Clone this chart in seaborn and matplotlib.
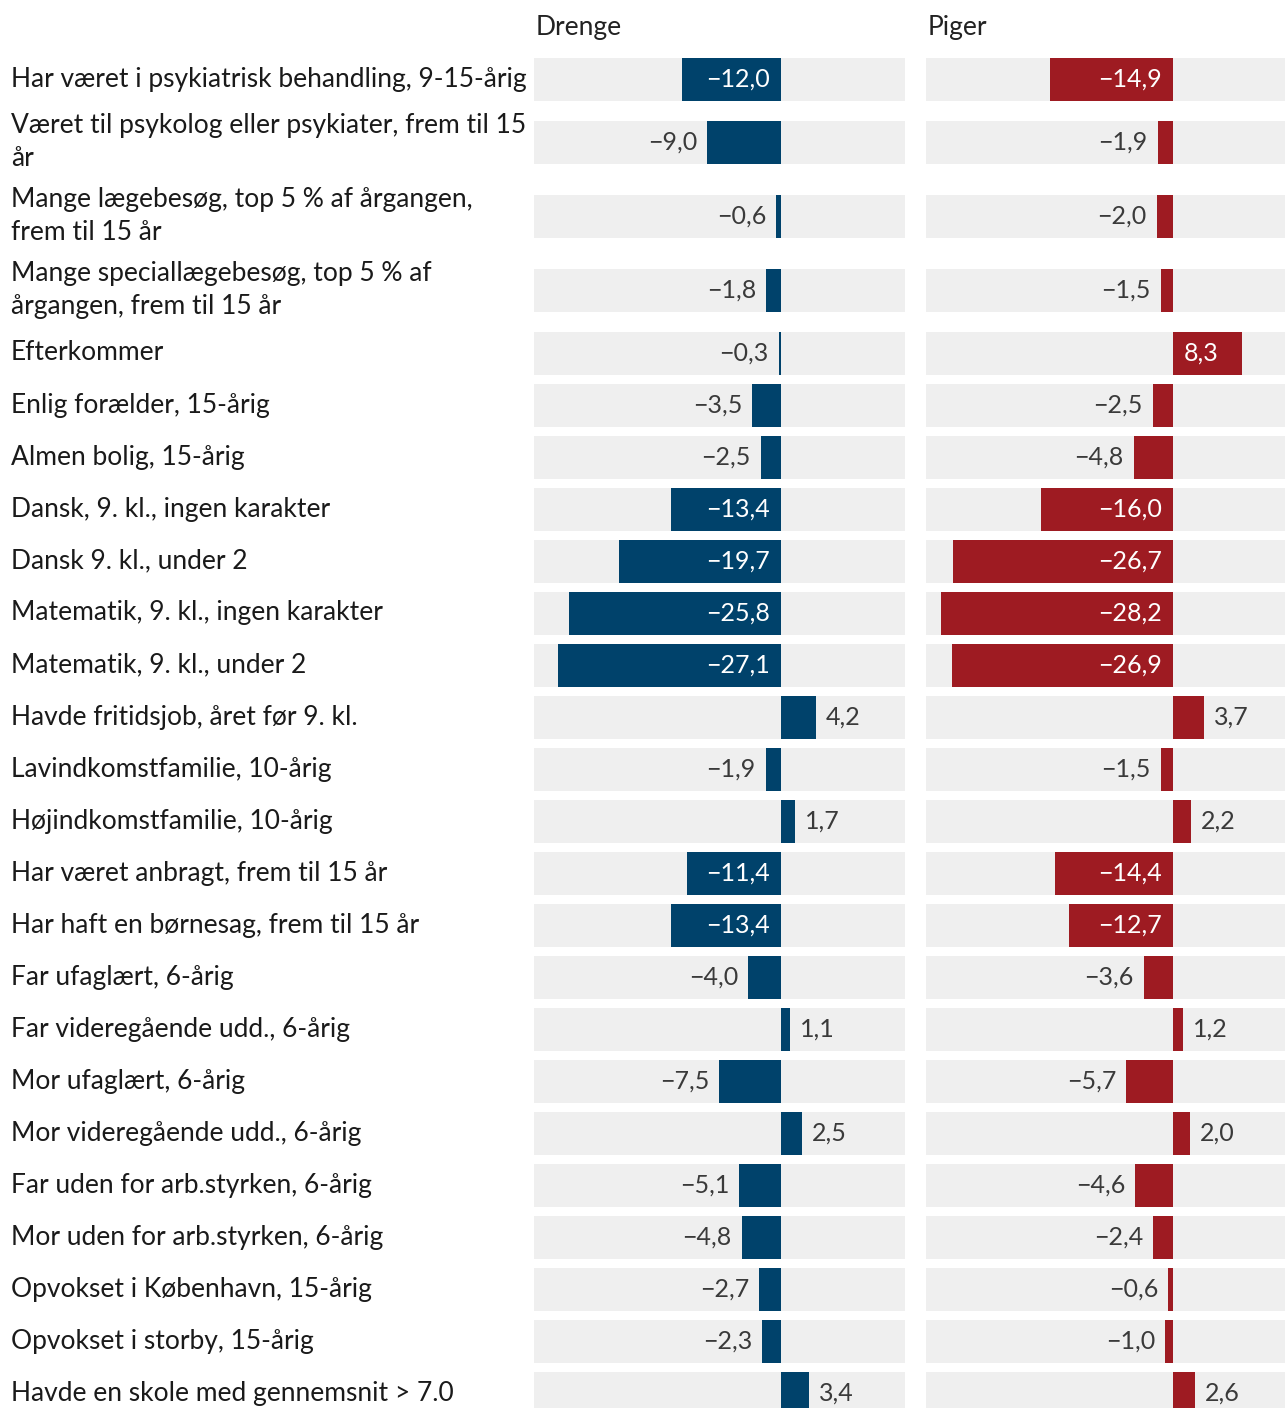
import numpy as np
import pandas as pd
import seaborn as sns
import matplotlib.pyplot as plt

sns.set_theme(style='white')
plt.rcParams['font.family'] = ['Lato', 'DejaVu Sans']

# data
labels = [
    'Har været i psykiatrisk behandling, 9-15-årig',
    'Været til psykolog eller psykiater, frem til 15\når',
    'Mange lægebesøg, top 5 % af årgangen,\nfrem til 15 år',
    'Mange speciallægebesøg, top 5 % af\nårgangen, frem til 15 år',
    'Efterkommer',
    'Enlig forælder, 15-årig',
    'Almen bolig, 15-årig',
    'Dansk, 9. kl., ingen karakter',
    'Dansk 9. kl., under 2',
    'Matematik, 9. kl., ingen karakter',
    'Matematik, 9. kl., under 2',
    'Havde fritidsjob, året før 9. kl.',
    'Lavindkomstfamilie, 10-årig',
    'Højindkomstfamilie, 10-årig',
    'Har været anbragt, frem til 15 år',
    'Har haft en børnesag, frem til 15 år',
    'Far ufaglært, 6-årig',
    'Far videregående udd., 6-årig',
    'Mor ufaglært, 6-årig',
    'Mor videregående udd., 6-årig',
    'Far uden for arb.styrken, 6-årig',
    'Mor uden for arb.styrken, 6-årig',
    'Opvokset i København, 15-årig',
    'Opvokset i storby, 15-årig',
    'Havde en skole med gennemsnit > 7.0',
]
drenge = [-12.0, -9.0, -0.6, -1.8, -0.3, -3.5, -2.5, -13.4, -19.7, -25.8, -27.1, 4.2, -1.9,
          1.7, -11.4, -13.4, -4.0, 1.1, -7.5, 2.5, -5.1, -4.8, -2.7, -2.3, 3.4]
piger = [-14.9, -1.9, -2.0, -1.5, 8.3, -2.5, -4.8, -16.0, -26.7, -28.2, -26.9, 3.7, -1.5,
         2.2, -14.4, -12.7, -3.6, 1.2, -5.7, 2.0, -4.6, -2.4, -0.6, -1.0, 2.6]
titles = ['Drenge', 'Piger']

W, H = 1285, 1408
fig = plt.figure(figsize=(W / 100, H / 100), dpi=100)

# row layout in pixels (two-line labels get taller rows)
row_h = np.array([74 if '\n' in l else 52 for l in labels])
centers = 53 + np.cumsum(row_h) - row_h / 2
bar_h = 43

df = pd.DataFrame({'label': labels, 'y': centers, 'Drenge': drenge, 'Piger': piger})

scale = 8.24  # px per percentage point
panels = [('Drenge', 534, 905, '#00426b'), ('Piger', 926, 1285, '#9e1b22')]
fs_lab = 19
fs_val = 18

for col, left, right, color in panels:
    ax = fig.add_axes([left / W, 0, (right - left) / W, 1])
    for c in centers:
        ax.axhspan(c - bar_h / 2, c + bar_h / 2, color='#efefef', zorder=0, lw=0)
    sns.barplot(data=df, x=col, y='y', orient='h', native_scale=True, width=bar_h / 52,
                color=color, saturation=1, linewidth=0, errorbar=None, ax=ax, zorder=2)
    ax.set_xlim(-30, (right - left) / scale - 30)
    ax.set_ylim(H, 0)
    ax.axis('off')

    for v, y in zip(df[col], df['y']):
        s = ('−' if v < 0 else '') + f'{abs(v):.1f}'.replace('.', ',')
        inside = abs(v) * scale > 13 * len(s) + 24
        sign = -1 if v < 0 else 1
        if inside:
            ax.annotate(s, xy=(0, y), xytext=(sign * 11, 2), textcoords='offset pixels',
                        ha='right' if v < 0 else 'left', va='center_baseline',
                        fontsize=fs_val, color='white', zorder=3)
        else:
            ax.annotate(s, xy=(v, y), xytext=(sign * 10, 2), textcoords='offset pixels',
                        ha='right' if v < 0 else 'left', va='center_baseline',
                        fontsize=fs_val, color='#3a3a3a', zorder=3)

    fig.text((left + 2) / W, 1 - 28 / H, col, fontsize=fs_lab, color='#222222',
             ha='left', va='center')

for lab, y in zip(labels, centers):
    fig.text(11 / W, 1 - y / H, lab, fontsize=fs_lab, color='#1a1a1a', ha='left',
             va='center', linespacing=1.4)

fig.savefig('out.png', dpi=100)
